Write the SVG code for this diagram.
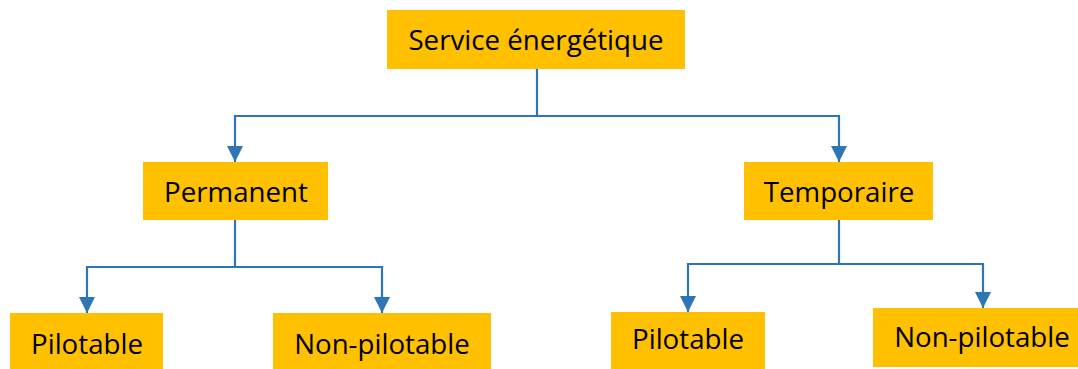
<svg xmlns="http://www.w3.org/2000/svg" width="1078" height="369" viewBox="0 0 1078 369">
<style>
.box{fill:#FFC000}
.lbl{font-family:"Open Sans","Liberation Sans",Arial,sans-serif;font-size:27.7px;fill:#000;text-anchor:middle}
.con{fill:none;stroke:#2E75B6;stroke-width:2.2}
</style>
<defs>
<marker id="ah" markerUnits="userSpaceOnUse" markerWidth="18" markerHeight="18" viewBox="0 0 18 18" refX="16" refY="9" orient="auto">
<path d="M0,1 L16,9 L0,17 Z" fill="#2E75B6"/>
</marker>
</defs>
<rect width="1078" height="369" fill="#fff"/>
<g id="connectors">
<path class="con" d="M537,69 V116"/>
<path class="con" d="M537,116 H235 V162" marker-end="url(#ah)"/>
<path class="con" d="M537,116 H839 V162" marker-end="url(#ah)"/>
<path class="con" d="M235,220 V267"/>
<path class="con" d="M235,267 H87 V313" marker-end="url(#ah)"/>
<path class="con" d="M235,267 H382 V313" marker-end="url(#ah)"/>
<path class="con" d="M839,220 V264"/>
<path class="con" d="M839,264 H688 V312" marker-end="url(#ah)"/>
<path class="con" d="M839,264 H983 V308" marker-end="url(#ah)"/>
</g>
<g id="root"><rect class="box" x="387" y="10" width="298" height="59"/><text class="lbl" x="536" y="50">Service énergétique</text></g>
<g id="permanent"><rect class="box" x="143" y="162" width="185" height="58"/><text class="lbl" x="236" y="202">Permanent</text></g>
<g id="temporaire"><rect class="box" x="744" y="162" width="189" height="58"/><text class="lbl" x="839" y="202">Temporaire</text></g>
<g id="perm-pilotable"><rect class="box" x="10" y="313" width="153" height="56"/><text class="lbl" x="87" y="354">Pilotable</text></g>
<g id="perm-nonpilotable"><rect class="box" x="273" y="313" width="218" height="56"/><text class="lbl" x="382" y="354">Non-pilotable</text></g>
<g id="temp-pilotable"><rect class="box" x="611" y="312" width="154" height="57"/><text class="lbl" x="688" y="349">Pilotable</text></g>
<g id="temp-nonpilotable"><rect class="box" x="873" y="308" width="205" height="59"/><text class="lbl" x="982" y="347">Non-pilotable</text></g>
</svg>
